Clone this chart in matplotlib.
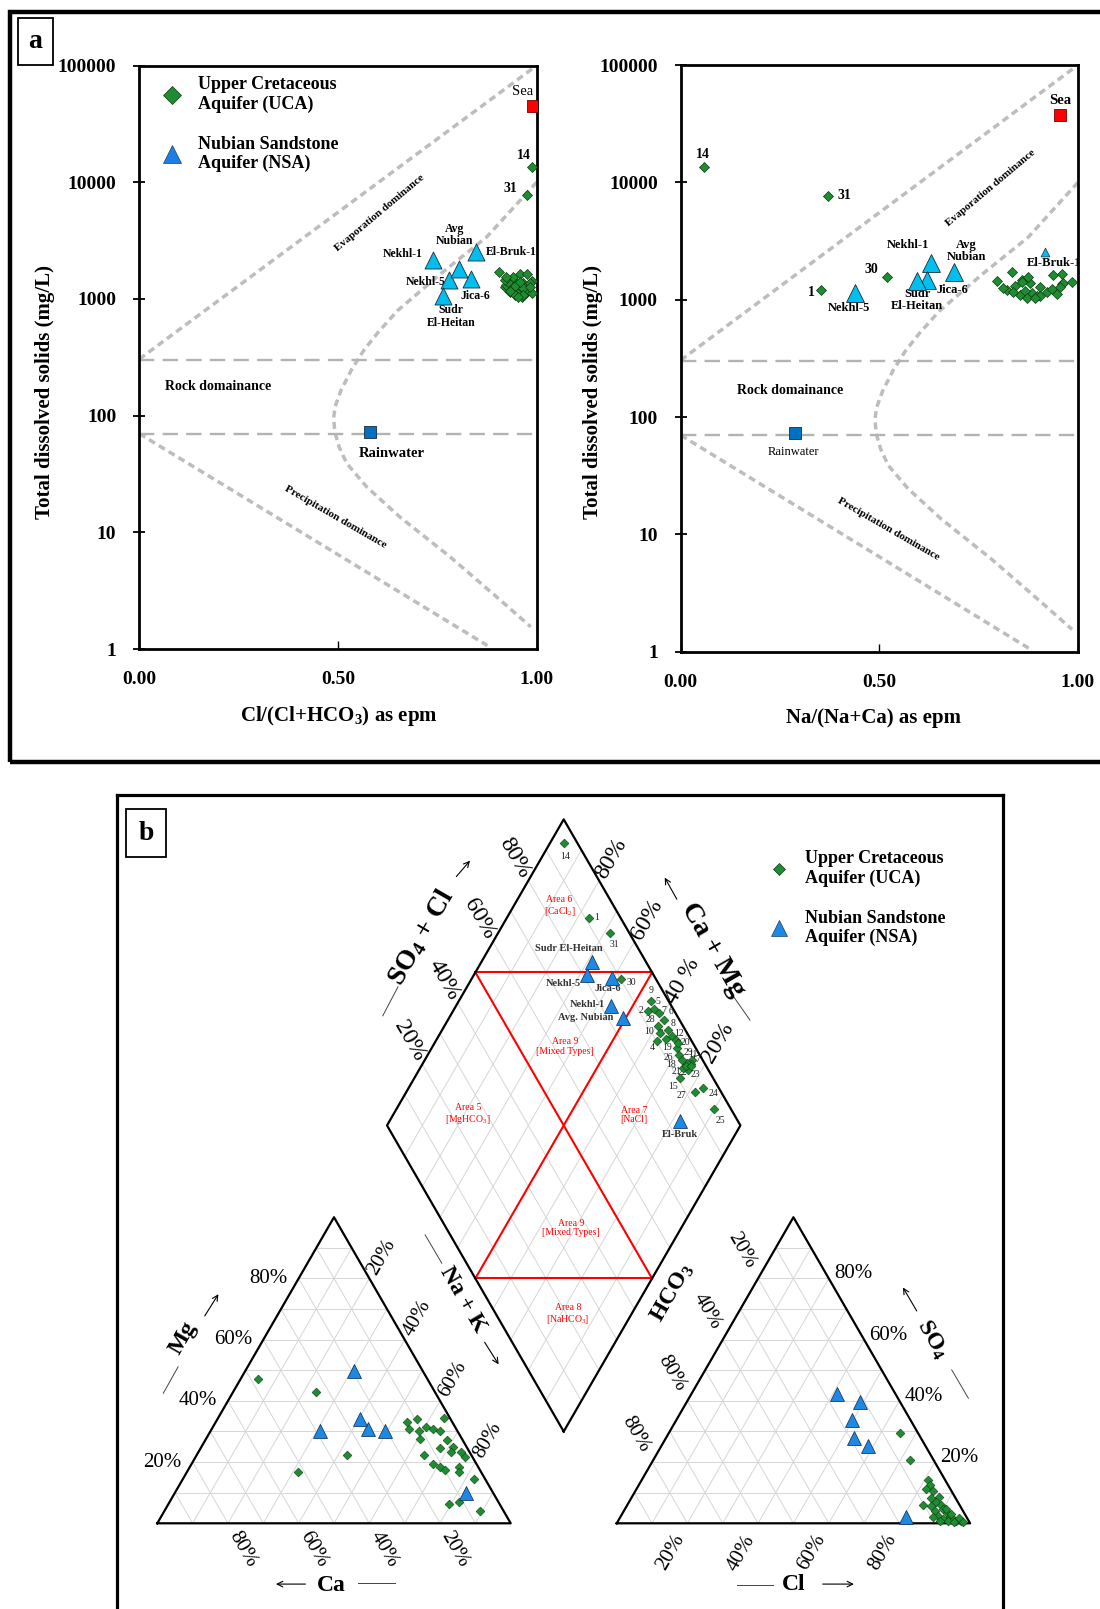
import numpy as np
import matplotlib
matplotlib.use("Agg")
import matplotlib.pyplot as plt
from matplotlib.lines import Line2D
from matplotlib.patches import Rectangle
from matplotlib.ticker import NullLocator

plt.rcParams["font.family"] = ["Liberation Serif", "DejaVu Serif"]
plt.rcParams["mathtext.fontset"] = "custom"
plt.rcParams["mathtext.rm"] = "Liberation Serif"
plt.rcParams["mathtext.it"] = "Liberation Serif:italic"
plt.rcParams["mathtext.bf"] = "Liberation Serif:bold"

W, H = 1100, 1609

# ---------------- Gibbs diagram data ----------------
uca_no = list(range(1, 32))
uca_tds = [1200, 1475, 1213, 1135, 1380, 1290, 1627, 1153, 1710, 1257,
           1427, 1099, 1361, 13500, 1080, 1550, 1192, 1313, 1030, 1383,
           1230, 1114, 1650, 1404, 1273, 1173, 1077, 1452, 1030, 1550, 7700]
uca_cl_ratio = [0.930, 0.941, 0.962, 0.933, 0.966, 0.945, 0.958, 0.975, 0.906, 0.920,
                0.987, 0.954, 0.983, 0.987, 0.945, 0.941, 0.979, 0.924, 0.962, 0.929,
                0.966, 0.987, 0.975, 0.958, 0.983, 0.933, 0.966, 0.920, 0.954, 0.922, 0.975]
uca_na_ratio = [0.352, 0.858, 0.821, 0.883, 0.879, 0.904, 0.938, 0.921, 0.833, 0.812,
                0.858, 0.854, 0.959, 0.059, 0.896, 0.875, 0.867, 0.841, 0.871, 0.963,
                0.934, 0.946, 0.959, 0.984, 0.955, 0.837, 0.904, 0.795, 0.892, 0.518, 0.371]

nsa_names = ["Nekhl-1", "Nekhl-5", "Jica-6", "Sudr\nEl-Heitan", "El-Bruk-1", "Avg\nNubian"]
nsa_cl_ratio = [0.738, 0.779, 0.834, 0.765, 0.846, 0.804]
nsa_tds_cl = [2155, 1452, 1472, 1065, 2540, 1795]
nsa_na_ratio = [0.629, 0.439, 0.620, 0.595, 0.917, 0.688]
nsa_tds_na = [2043, 1135, 1465, 1446, 2570, 1713]

sea_ratio = [0.99, 0.955]      # Cl panel, Na panel
sea_tds = [45000, 37600]
rain_ratio = [0.581, 0.288]
rain_tds = [72, 73]

# Gibbs envelope
upper_x, upper_tds = [0.0, 1.0], [305, 100000]
inner_x = [1.0, 0.933, 0.874, 0.76, 0.65, 0.6, 0.565, 0.535, 0.508, 0.493, 0.489,
           0.492, 0.503, 0.522, 0.572, 0.656, 0.782, 0.908, 0.985]
inner_log = [4.0, 3.75, 3.53, 3.22, 2.90, 2.71, 2.56, 2.40, 2.22, 2.08, 1.98,
             1.86, 1.73, 1.59, 1.39, 1.13, 0.79, 0.42, 0.19]
lower_x, lower_tds = [0.0, 0.876], [70, 1.07]
rock_limits = [300, 70]
gibbs_xticks = [0.0, 0.5, 1.0]
gibbs_yticks = [1, 10, 100, 1000, 10000, 100000]

# ---------------- Piper diagram data ----------------
# cation triangle (Mg %, Na+K %)
uca_mg = [47.2, 43.0, 22.2, 16.6, 33.2, 34.1, 34.3, 30.7, 30.3, 31.4, 30.7, 30.2, 27.7, 27.2,
          24.5, 24.8, 23.2, 23.2, 22.4, 21.5, 19.3, 18.5, 17.4, 18.5, 16.9, 14.4, 6.2, 7.0, 4.0]
uca_nak = [5.0, 23.3, 42.5, 31.6, 54.0, 56.5, 64.1, 56.0, 58.8, 60.4, 62.8, 64.9, 60.5, 68.3,
           67.8, 71.4, 71.4, 74.3, 64.4, 76.4, 68.5, 70.7, 72.7, 76.2, 77.0, 82.5, 79.5, 82.0, 89.3]
# anion triangle (SO4 %, Cl %)
uca_so4 = [29.5, 20.8, 14.2, 12.5, 11.2, 10.5, 8.2, 8.5, 6.9, 6.1, 5.8, 6.0, 4.7, 3.9, 3.3,
           2.5, 2.2, 2.2, 1.4, 1.4, 0.9, 0.9, 0.7, 1.7, 0.9, 3.1, 0.5, 0.3, 4.7]
uca_cl = [65.5, 72.7, 80.9, 82.4, 81.8, 84.2, 84.7, 86.9, 87.0, 83.6, 86.1, 88.8, 89.9, 88.2,
          91.8, 89.8, 88.3, 93.1, 91.6, 94.4, 93.3, 95.6, 97.1, 95.9, 90.9, 93.1, 95.3, 97.8, 90.9]
# diamond (Ca+Mg %, SO4+Cl %) for samples 1..31
uca_camg = [76.7, 44.8, 35.2, 37.3, 43.4, 38.9, 41.4, 36.0, 45.6, 37.9,
            24.5, 34.0, 32.3, 95.9, 24.9, 24.0, 24.1, 25.5, 30.6, 31.1,
            25.7, 25.2, 23.8, 16.8, 10.3, 28.9, 18.4, 39.4, 27.2, 57.8, 68.3]
uca_so4cl = [91.2, 92.6, 93.2, 90.3, 94.5, 95.6, 95.3, 95.1, 95.2, 92.3,
             97.0, 95.1, 95.6, 96.3, 90.5, 94.2, 95.9, 95.0, 94.8, 95.9,
             93.1, 94.2, 95.7, 95.5, 95.2, 94.1, 92.6, 93.0, 94.3, 90.1, 94.6]

nsa_piper_names = ["Nekhl-1", "Nekhl-5", "Jica-6", "Sudr El-Heitan", "El-Bruk", "Avg. Nubian"]
nsa_mg = [30.7, 30.2, 34.1, 49.8, 10.0, 30.3]
nsa_nak = [44.3, 31.0, 40.3, 30.9, 82.3, 49.3]
nsa_so4 = [33.6, 27.8, 39.6, 42.3, 2.2, 25.4]
nsa_cl = [49.7, 53.2, 48.9, 41.3, 80.8, 58.4]
nsa_camg = [56.0, 68.2, 60.3, 68.8, 17.8, 50.7]
nsa_so4cl = [83.0, 81.1, 87.9, 84.6, 83.5, 84.5]

pct_ticks = [20, 40, 60, 80]

GREEN = "#1E8C32"
CYAN = "#00BFEF"
BLUE = "#1E88E5"
DASH = "#bdbdbd"

fig = plt.figure(figsize=(W / 100, H / 100), dpi=100)
fig.patch.set_facecolor("white")


def px_axes(x0, y0, x1, y1):
    return fig.add_axes([x0 / W, 1 - y1 / H, (x1 - x0) / W, (y1 - y0) / H])


def letter_box(x0, y0, x1, y1, letter):
    fig.patches.append(Rectangle((x0 / W, 1 - y1 / H), (x1 - x0) / W, (y1 - y0) / H,
                                 transform=fig.transFigure, fill=False, lw=1.3, ec="k", zorder=5))
    fig.text((x0 + x1) / 2 / W, 1 - (y0 + y1) / 2 / H, letter, ha="center", va="center",
             fontsize=20, fontweight="bold", zorder=6)


def setup_gibbs(ax):
    ax.set_yscale("log")
    ax.set_xlim(0, 1)
    ax.set_ylim(1, 1e5)
    ax.set_xticks(gibbs_xticks)
    ax.set_xticklabels(["%.2f" % t for t in gibbs_xticks])
    ax.set_yticks(gibbs_yticks)
    ax.set_yticklabels([str(t) for t in gibbs_yticks])
    ax.yaxis.set_minor_locator(NullLocator())
    ax.tick_params(axis="y", direction="inout", length=9, width=1.3, pad=12, labelsize=14)
    ax.tick_params(axis="x", direction="in", length=6, width=1.0, pad=16, labelsize=14)
    plt.setp(ax.get_xticklabels() + ax.get_yticklabels(), fontweight="bold")
    for sp in ax.spines.values():
        sp.set_linewidth(2)
    dots = dict(color=DASH, lw=2.5, ls=(0, (2.0, 1.3)), zorder=1)
    ax.plot(upper_x, upper_tds, **dots)
    ax.plot(inner_x, 10 ** np.array(inner_log), **dots)
    ax.plot(lower_x, lower_tds, **dots)
    for t in rock_limits:
        ax.axhline(t, color="#b3b3b3", lw=1.7, ls=(0, (6.5, 3.5)), zorder=1)


def add_legend(ax, tri_color, d_size, t_size, anchor):
    handles = [Line2D([], [], ls="none", marker="D", ms=d_size, mfc=GREEN, mec="#0b3d0b", mew=0.5),
               Line2D([], [], ls="none", marker="^", ms=t_size, mfc=tri_color, mec="#1f3f66", mew=0.5)]
    labels = ["Upper Cretaceous\nAquifer (UCA)", "Nubian Sandstone\nAquifer (NSA)"]
    ax.legend(handles, labels, loc="upper left", bbox_to_anchor=(anchor[0] / W, 1 - anchor[1] / H),
              bbox_transform=fig.transFigure, frameon=False, borderpad=0, borderaxespad=0,
              handlelength=1.6, handletextpad=0.6, labelspacing=1.25,
              prop=dict(size=13, weight="bold"))


# ---------------- panel a ----------------
fig.patches.append(Rectangle((9.5 / W, 1 - 762 / H), 1.2, (762 - 12.5) / H,
                             transform=fig.transFigure, fill=False, lw=3.2, ec="k"))
letter_box(18, 18, 53, 65, "a")

ax1 = px_axes(139.3, 65.5, 536.7, 649)
ax2 = px_axes(680.7, 65.0, 1078, 651.7)
for ax in (ax1, ax2):
    setup_gibbs(ax)

# left: Cl/(Cl+HCO3)
ax1.scatter(uca_cl_ratio, uca_tds, marker="D", s=26, c=GREEN, edgecolors="#0b3d0b", linewidths=0.5, zorder=4)
ax1.scatter(nsa_cl_ratio, nsa_tds_cl, marker="^", s=150, c=CYAN, edgecolors="#1a2a3a", linewidths=0.6, zorder=5)
ax1.scatter(sea_ratio[0], sea_tds[0], marker="s", s=75, c="#ff0000", edgecolors="#7a0000", linewidths=0.6, zorder=5)
ax1.scatter(rain_ratio[0], rain_tds[0], marker="s", s=72, c="#0070C0", edgecolors="#1a2a3a", linewidths=0.6, zorder=5)

lab = dict(textcoords="offset pixels", ha="center", va="center", fontweight="bold")
for no, off in {14: (-8, 11), 31: (-16, 7)}.items():
    i = uca_no.index(no)
    ax1.annotate(str(no), (uca_cl_ratio[i], uca_tds[i]), xytext=off, fontsize=10, **lab)
left_nsa = {"Nekhl-1": ((-10, 6), "right"), "Nekhl-5": ((-3, -2), "right"),
            "Jica-6": ((5, -17), "center"), "Sudr\nEl-Heitan": ((8, -21), "center"),
            "El-Bruk-1": ((10, 0), "left"), "Avg\nNubian": ((-4, 34), "center")}
for i, name in enumerate(nsa_names):
    off, ha = left_nsa[name]
    ax1.annotate(name, (nsa_cl_ratio[i], nsa_tds_cl[i]), xytext=off, fontsize=8.5,
                 linespacing=1.05, zorder=3, **{**lab, "ha": ha})
ax1.annotate("Sea", (sea_ratio[0], sea_tds[0]), xytext=(-10, 14), textcoords="offset pixels",
             ha="center", va="center", fontsize=10.5)
ax1.annotate("Rainwater", (rain_ratio[0], rain_tds[0]), xytext=(22, -21), fontsize=10.5, **lab)
ax1.text(0.605, 5400, "Evaporation dominance", rotation=40, ha="center", va="center",
         fontsize=8, fontweight="bold")
ax1.text(0.199, 176, "Rock domainance", ha="center", va="center", fontsize=10, fontweight="bold")
ax1.text(0.494, 13.5, "Precipitation dominance", rotation=-30, ha="center", va="center",
         fontsize=8, fontweight="bold")
add_legend(ax1, "#1C7FE6", 8.8, 13, (158, 76))

# right: Na/(Na+Ca)
ax2.scatter(uca_na_ratio, uca_tds, marker="D", s=26, c=GREEN, edgecolors="#0b3d0b", linewidths=0.5, zorder=4)
big = np.array([n != "El-Bruk-1" for n in nsa_names])
ax2.scatter(np.array(nsa_na_ratio)[big], np.array(nsa_tds_na)[big], marker="^", s=165, c=CYAN,
            edgecolors="#1a2a3a", linewidths=0.6, zorder=5)
ax2.scatter(np.array(nsa_na_ratio)[~big], np.array(nsa_tds_na)[~big], marker="^",
            s=40, c=CYAN, edgecolors="#1a2a3a", linewidths=0.5, zorder=5)
ax2.scatter(sea_ratio[1], sea_tds[1], marker="s", s=75, c="#ff0000", edgecolors="#7a0000", linewidths=0.6, zorder=5)
ax2.scatter(rain_ratio[1], rain_tds[1], marker="s", s=72, c="#0070C0", edgecolors="#1a2a3a", linewidths=0.6, zorder=5)
for no, (off, ha) in {14: ((-1, 13), "center"), 31: ((9, 0), "left"),
                      30: ((-8, 8), "right"), 1: ((-6, -2), "right")}.items():
    i = uca_no.index(no)
    ax2.annotate(str(no), (uca_na_ratio[i], uca_tds[i]), xytext=off, fontsize=10, **{**lab, "ha": ha})
right_nsa = {"Nekhl-1": (-23, 18), "Nekhl-5": (-6, -15), "Jica-6": (25, -10),
             "Sudr\nEl-Heitan": (0, -19), "El-Bruk-1": (9, -11), "Avg\nNubian": (12, 21)}
for i, name in enumerate(nsa_names):
    ax2.annotate(name, (nsa_na_ratio[i], nsa_tds_na[i]), xytext=right_nsa[name], fontsize=9,
                 linespacing=1.05, zorder=3, annotation_clip=False, clip_on=True, **lab)
ax2.annotate("Sea", (sea_ratio[1], sea_tds[1]), xytext=(0, 14), fontsize=10.5, **lab)
ax2.annotate("Rainwater", (rain_ratio[1], rain_tds[1]), xytext=(-2, -19), textcoords="offset pixels",
             ha="center", va="center", fontsize=9)
ax2.text(0.779, 8980, "Evaporation dominance", rotation=40, ha="center", va="center",
         fontsize=8, fontweight="bold")
ax2.text(0.275, 167, "Rock domainance", ha="center", va="center", fontsize=10, fontweight="bold")
ax2.text(0.523, 11, "Precipitation dominance", rotation=-30, ha="center", va="center",
         fontsize=8, fontweight="bold")

fig.text(45 / W, 1 - 392 / H, "Total dissolved solids (mg/L)", rotation=90, ha="center",
         va="center", fontsize=15, fontweight="bold")
fig.text(593 / W, 1 - 392 / H, "Total dissolved solids (mg/L)", rotation=90, ha="center",
         va="center", fontsize=15, fontweight="bold")
fig.text(338.6 / W, 1 - 716 / H, r"Cl/(Cl+HCO$_\mathbf{3}$) as epm", ha="center", va="center",
         fontsize=15, fontweight="bold")
fig.text(874 / W, 1 - 718 / H, "Na/(Na+Ca) as epm", ha="center", va="center",
         fontsize=15, fontweight="bold")

# ---------------- panel b : Piper ----------------
S3 = np.sqrt(3) / 2
GAP = 0.3


def cat_xy(mg, nak):
    mg, nak = np.asarray(mg, float) / 100, np.asarray(nak, float) / 100
    return nak + mg / 2, mg * S3


def an_xy(so4, cl):
    so4, cl = np.asarray(so4, float) / 100, np.asarray(cl, float) / 100
    return 1 + GAP + cl + so4 / 2, so4 * S3


def dia_xy(camg, so4cl):
    c, s = np.asarray(camg, float) / 100, np.asarray(so4cl, float) / 100
    return 1 + GAP / 2 + (s - c) / 2, GAP * S3 + (s + c) * S3


u0, v0, side = 157.3, 1523.3, 353.4
pax = px_axes(117, 795, 1003, 1609)
pax.set_xlim((117 - u0) / side, (1003 - u0) / side)
pax.set_ylim((v0 - 1609) / side, (v0 - 795) / side)
pax.set_xticks([])
pax.set_yticks([])
for k in ("left", "top", "right"):
    pax.spines[k].set_linewidth(2.3)
pax.spines["bottom"].set_visible(False)
letter_box(126, 809, 166, 857, "b")


def seg(f, a, b, **kw):
    x, y = f([a[0], b[0]], [a[1], b[1]])
    pax.plot(x, y, **kw)


grid = dict(color="#d6d6d6", lw=0.7, zorder=1)
for p in range(10, 100, 10):
    for f in (cat_xy, an_xy):
        seg(f, (p, 0), (p, 100 - p), **grid)
        seg(f, (0, p), (100 - p, p), **grid)
        seg(f, (0, 100 - p), (100 - p, 0), **grid)
    seg(dia_xy, (p, 0), (p, 100), **grid)
    seg(dia_xy, (0, p), (100, p), **grid)

outline = dict(color="k", lw=1.6, zorder=3)
x, y = cat_xy([0, 0, 100, 0], [0, 100, 0, 0])
pax.plot(x, y, **outline)
x, y = an_xy([0, 0, 100, 0], [0, 100, 0, 0])
pax.plot(x, y, **outline)
x, y = dia_xy([0, 100, 100, 0, 0], [0, 0, 100, 100, 0])
pax.plot(x, y, **outline)

red = dict(color="red", lw=1.5, zorder=2)
seg(dia_xy, (100, 50), (50, 100), **red)
seg(dia_xy, (50, 0), (0, 50), **red)
seg(dia_xy, (100, 50), (0, 50), **red)
seg(dia_xy, (50, 100), (50, 0), **red)

areas = [("Area 6\n[CaCl$_2$]", 86.9, 84.5), ("Area 9\n[Mixed Types]", 62.5, 63.4),
         ("Area 5\n[MgHCO$_3$]", 78.8, 24.7), ("Area 7\n[NaCl]", 31.8, 71.6),
         ("Area 9\n[Mixed Types]", 31.2, 35.3), ("Area 8\n[NaHCO$_3$]", 18.0, 20.3)]
for txt, c, s in areas:
    x, y = dia_xy(c, s)
    pax.text(x, y, txt, color="red", fontsize=7, ha="center", va="center", linespacing=1.1, zorder=2)

# percentage labels
hco3_labels = ["20%", "40%", "80%", "80%"]
camg_labels = ["20%", "40 %", "60%", "80%"]
for k, p in enumerate(pct_ticks):
    t = "%d%%" % p
    x, y = cat_xy(p, 0)
    pax.text(x - 0.086, y, t, ha="center", va="center", fontsize=15)
    x, y = cat_xy(100 - p, p)
    pax.text(x + 0.5 * 0.07, y + S3 * 0.07, t, ha="center", va="center", fontsize=15, rotation=60)
    x, y = cat_xy(0, 100 - p)
    pax.text(x + 0.5 * 0.085, y - S3 * 0.085, t, ha="center", va="center", fontsize=15, rotation=-60)
    x, y = an_xy(p, 100 - p)
    pax.text(x + 0.069, y + 0.013, t, ha="center", va="center", fontsize=15)
    x, y = an_xy(100 - p, 0)
    pax.text(x - 0.5 * 0.091, y + S3 * 0.091, hco3_labels[k], ha="center", va="center",
             fontsize=15, rotation=-60)
    x, y = an_xy(0, p)
    pax.text(x - 0.5 * 0.096, y - S3 * 0.096, t, ha="center", va="center", fontsize=15, rotation=60)
    x, y = dia_xy(100, p)
    pax.text(x - 0.5 * 0.075, y + S3 * 0.075, t, ha="center", va="center", fontsize=17, rotation=-60)
    x, y = dia_xy(p, 100)
    pax.text(x + 0.5 * 0.071, y + S3 * 0.071, camg_labels[k], ha="center", va="center",
             fontsize=17, rotation=60)

# axis titles with arrows
titles = [(r"SO$_\mathbf{4}$ + Cl", 0.746, 1.659, 60, 20), ("Ca + Mg", 1.573, 1.622, -60, 20),
          ("Na + K", 0.866, 0.632, -60, 17), (r"HCO$_\mathbf{3}$", 1.456, 0.651, 60, 17),
          ("Mg", 0.074, 0.523, 60, 17), ("Ca", 0.493, -0.175, 0, 17),
          (r"SO$_\mathbf{4}$", 2.191, 0.519, -60, 17), ("Cl", 1.800, -0.172, 0, 17)]
for txt, x, y, rot, fs in titles:
    pax.text(x, y, txt, ha="center", va="center", rotation=rot, fontsize=fs, fontweight="bold")
arrows = [((0.841, 1.824), (0.890, 1.881)), ((1.474, 1.759), (1.432, 1.834)),
          ((0.922, 0.519), (0.970, 0.443)), ((0.130, 0.580), (0.177, 0.655)),
          ((0.427, -0.172), (0.328, -0.172)), ((2.153, 0.594), (2.106, 0.674)),
          ((1.875, -0.172), (1.979, -0.172))]
for tail, head in arrows:
    pax.annotate("", xy=head, xytext=tail, arrowprops=dict(arrowstyle="->", lw=0.8, color="k"))
dashes = [((0.638, 1.436), (0.681, 1.518)), ((1.621, 1.504), (1.677, 1.424)),
          ((0.758, 0.816), (0.805, 0.736)), ((0.017, 0.368), (0.059, 0.443)),
          ((0.569, -0.170), (0.673, -0.170)), ((2.248, 0.434), (2.295, 0.354)),
          ((1.640, -0.175), (1.743, -0.175))]
for a, b in dashes:
    pax.plot([a[0], b[0]], [a[1], b[1]], color="#444444", lw=0.7)

# points
mk_d = dict(marker="D", s=20, c=GREEN, edgecolors="#0b3d0b", linewidths=0.4, zorder=5)
mk_t = dict(marker="^", s=100, c=BLUE, edgecolors="#173a63", linewidths=0.6, zorder=6)
pax.scatter(*cat_xy(uca_mg, uca_nak), **mk_d)
pax.scatter(*an_xy(uca_so4, uca_cl), **mk_d)
pax.scatter(*dia_xy(uca_camg, uca_so4cl), **mk_d)
pax.scatter(*cat_xy(nsa_mg, nsa_nak), **mk_t)
pax.scatter(*an_xy(nsa_so4, nsa_cl), **mk_t)
pax.scatter(*dia_xy(nsa_camg, nsa_so4cl), **mk_t)

uca_label_offsets = {1: (7, 0), 2: (-7, 0), 3: (-5, 5), 4: (-5, -7), 5: (4, 8), 6: (7, 8),
                     7: (5, 3), 8: (5, 7), 9: (0, 10), 10: (-11, 2), 11: (1, 5), 12: (7, 3),
                     14: (1, -13), 15: (-7, -8), 17: (5, 5), 18: (-15, -2), 19: (-10, 0),
                     20: (7, 0), 21: (-6, -4), 22: (-3, -6), 23: (5, -9), 24: (11, -6),
                     25: (7, -12), 26: (-11, -2), 27: (-13, -4), 28: (-8, 7), 29: (6, 7),
                     30: (11, -4), 31: (4, -12)}
dx, dy = dia_xy(uca_camg, uca_so4cl)
for i, no in enumerate(uca_no):
    if no in uca_label_offsets:
        pax.annotate(str(no), (dx[i], dy[i]), xytext=uca_label_offsets[no], textcoords="offset pixels",
                     ha="center", va="center", fontsize=7, color="#222222", zorder=4)
nsa_label_offsets = {"Nekhl-1": (-24, 2), "Nekhl-5": (-23, -9), "Jica-6": (-5, -11),
                     "Sudr El-Heitan": (-23, 13), "El-Bruk": (0, -13), "Avg. Nubian": (-38, 0)}
dx, dy = dia_xy(nsa_camg, nsa_so4cl)
for i, name in enumerate(nsa_piper_names):
    pax.annotate(name, (dx[i], dy[i]), xytext=nsa_label_offsets[name], textcoords="offset pixels",
                 ha="center", va="center", fontsize=7.5, fontweight="bold", color="#333333", zorder=4)

add_legend(pax, BLUE, 6.3, 12, (765, 850))

fig.savefig("out.png", dpi=100, facecolor="white")
